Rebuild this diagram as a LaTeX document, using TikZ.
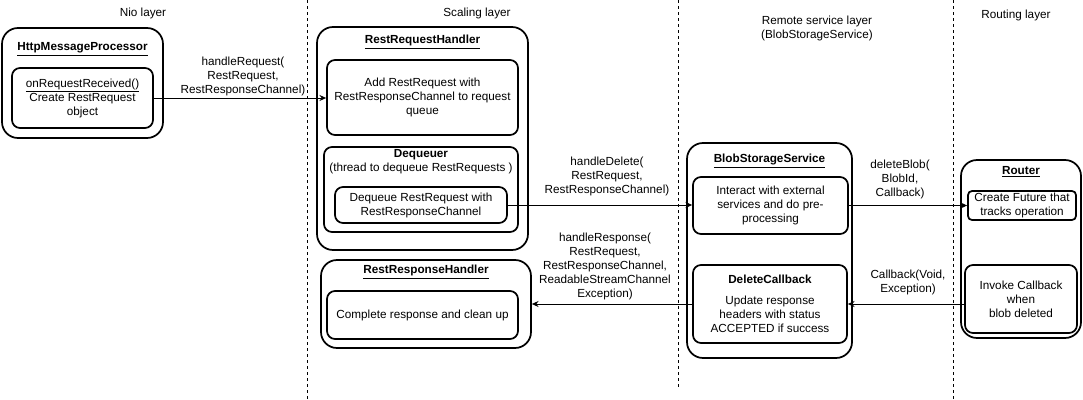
\documentclass[tikz,border=0pt]{standalone}
\usepackage{fontspec}
\setmainfont{Liberation Sans}
\usetikzlibrary{arrows.meta,positioning,calc}
\newcommand{\diafont}{\fontsize{8.8}{10.5}\selectfont}

\begin{document}
\begin{tikzpicture}[x=0.75pt,y=-0.75pt,
  layerbox/.style={rectangle,rounded corners=12pt,draw,line width=1.3pt,inner sep=0pt},
  stepbox/.style={rectangle,rounded corners=6pt,draw,line width=1.3pt,inner sep=0pt,
                  align=center,font=\diafont},
  boxtitle/.style={inner sep=0pt,font=\diafont\bfseries},
  lbl/.style={inner sep=0pt,align=center,font=\diafont},
  callarr/.style={-{Stealth[length=5pt,width=4.5pt]},line width=0.75pt},
  sepline/.style={line width=0.75pt,dash pattern=on 2.5pt off 2pt}
]
\useasboundingbox (0,0) rectangle (1083,400);

% layer separators
\draw[sepline] (307,0) -- (307,400);
\draw[sepline] (678,0) -- (678,388);
\draw[sepline] (953,0) -- (953,400);

% layer names
\node[lbl] (niolayer) at (143,13) {Nio layer};
\node[lbl] (scalinglayer) at (477,13) {Scaling layer};
\node[lbl] (remotelayer) at (817,28) {Remote service layer\\(BlobStorageService)};
\node[lbl] (routinglayer) at (1016,15) {Routing layer};

% Nio layer
\node[layerbox,minimum width=120.75pt,minimum height=82.5pt] (hmp) at (82.5,83) {};
\node[boxtitle] (hmptitle) at ($(hmp.north)+(0,22)$) {\underline{HttpMessageProcessor}};
\node[stepbox,minimum width=105.75pt,minimum height=45pt] (hmpbody) at (82.5,98)
    {\underline{onRequestReceived()}\\Create RestRequest\\object};

% Scaling layer
\node[layerbox,minimum width=158.25pt,minimum height=167.25pt] (rrh) at (422.5,138.5) {};
\node[boxtitle] (rrhtitle) at ($(rrh.north)+(0,16)$) {\underline{RestRequestHandler}};
\node[stepbox,minimum width=143.25pt,minimum height=56.25pt] (addbox) at (422.5,97.5)
    {Add RestRequest with\\RestResponseChannel to request\\queue};
\node[stepbox,minimum width=145.5pt,minimum height=63.75pt] (deqbox) at (421,189.5) {};
\node[lbl,below=2pt of deqbox.north] (deqtitle)
    {\textbf{Dequeuer}\\(thread to dequeue RestRequests )};
\node[stepbox,minimum width=129pt,minimum height=27pt] (deqbody) at (421,205)
    {Dequeue RestRequest with\\RestResponseChannel};

\node[layerbox,minimum width=157.5pt,minimum height=66pt] (resph) at (426,304) {};
\node[boxtitle] (resphtitle) at ($(resph.north)+(0,13)$) {\underline{RestResponseHandler}};
\node[stepbox,minimum width=143.25pt,minimum height=36pt] (respbody) at (422.5,315)
    {Complete response and clean up};

% Remote service layer
\node[layerbox,minimum width=123.75pt,minimum height=161.25pt] (bss) at (769.5,250.5) {};
\node[boxtitle] (bsstitle) at ($(bss.north)+(0,19)$) {\underline{BlobStorageService}};
\node[stepbox,minimum width=116.25pt,minimum height=42.75pt] (interact) at (770.5,205.5)
    {Interact with external\\services and do pre-\\processing};
\node[stepbox,minimum width=115.5pt,minimum height=58.5pt] (delcb) at (770,304)
    {\textbf{DeleteCallback}\\[5pt]Update response\\headers with status\\ACCEPTED if success};

% Routing layer
\node[layerbox,minimum width=90pt,minimum height=133.5pt] (router) at (1021,249) {};
\node[boxtitle] (routertitle) at ($(router.north)+(0,13)$) {\underline{Router}};
\node[stepbox,rounded corners=3pt,minimum width=81pt,minimum height=21.75pt] (future) at (1022,205.5)
    {Create Future that\\tracks operation};
\node[stepbox,minimum width=84pt,minimum height=51pt] (invoke) at (1021,299)
    {Invoke Callback\\when\\blob deleted};

% calls
\draw[callarr] (hmpbody.east) -- (hmpbody.east -| addbox.west);
\node[lbl] (reqlbl) at (243,76.5) {handleRequest(\\RestRequest,\\RestResponseChannel)};

\draw[callarr] (deqbody.east) -- (deqbody.east -| interact.west);
\node[lbl] (dellbl) at (607,176.5) {handleDelete(\\RestRequest,\\RestResponseChannel)};

\draw[callarr] (interact.east) -- (interact.east -| future.west);
\node[lbl] (bloblbl) at (900,179) {deleteBlob(\\BlobId,\\Callback)};

\draw[callarr] (invoke.west |- delcb.east) -- (delcb.east);
\node[lbl] (cblbl) at (908,282) {Callback(Void,\\Exception)};

\draw[callarr] (delcb.west) -- (delcb.west -| resph.east);
\node[lbl] (resplbl) at (605,266.5)
    {handleResponse(\\RestRequest,\\RestResponseChannel,\\ReadableStreamChannel\\Exception)};

\end{tikzpicture}
\end{document}
